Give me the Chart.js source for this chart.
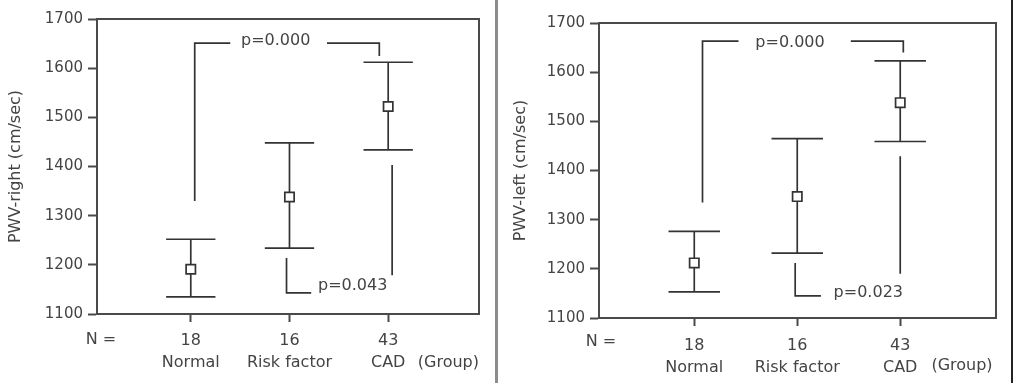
<!DOCTYPE html>
<html><head><meta charset="utf-8">
<script src="https://cdn.jsdelivr.net/npm/chart.js@4.4.1/dist/chart.umd.min.js"></script>
<style>
html,body{margin:0;padding:0;background:#fff;}
#wrap{position:relative;width:1019px;height:383px;overflow:hidden;background:#fff;}
#c1{position:absolute;left:0;top:0;}
#c2{position:absolute;left:500px;top:0;}
#sep{position:absolute;left:495px;top:0;width:3px;height:383px;background:#8c8c8c;}
#edge{position:absolute;left:1011px;top:0;width:2px;height:383px;background:#222;}
</style></head><body>
<div id="wrap">
<canvas id="c1" width="495" height="383"></canvas>
<div id="sep"></div>
<canvas id="c2" width="510" height="383"></canvas>
<div id="edge"></div>
</div>
<script>
// ---- data ----
const groups = ['Normal', 'Risk factor', 'CAD'];
const groupN = ['18', '16', '43'];
const yTicks = [1100, 1200, 1300, 1400, 1500, 1600, 1700];

// PWV-right panel
const rightMean  = [1191, 1338, 1522];
const rightUpper = [1252, 1448, 1612];
const rightLower = [1135, 1234, 1434];
// significance brackets (x in group units, y in cm/sec)
const rightBracketA1 = [[1.04, 1330], [1.04, 1651], [1.40, 1651]];
const rightBracketA2 = [[2.38, 1651], [2.91, 1651], [2.91, 1625]];
const rightBracketB1 = [[1.97, 1214], [1.97, 1143], [2.22, 1143]];
const rightBracketB2 = [[3.04, 1403], [3.04, 1179]];
const rightPLabels = [['p=0.000', 1.86, 1656], ['p=0.043', 2.64, 1157]];

// PWV-left panel
const leftMean  = [1212, 1347, 1538];
const leftUpper = [1276, 1465, 1623];
const leftLower = [1153, 1232, 1459];
const leftBracketA1 = [[1.08, 1335], [1.08, 1663], [1.43, 1663]];
const leftBracketA2 = [[2.52, 1663], [3.03, 1663], [3.03, 1640]];
const leftBracketB1 = [[1.98, 1212], [1.98, 1145], [2.23, 1145]];
const leftBracketB2 = [[3.00, 1429], [3.00, 1190]];
const leftPLabels = [['p=0.000', 1.93, 1660], ['p=0.023', 2.69, 1152]];

// ---- rendering ----
Chart.defaults.font.family = "'DejaVu Sans', sans-serif";
Chart.defaults.font.size = 16;
Chart.defaults.color = '#444';
Chart.defaults.animation = false;

const INK = '#333';
const FRAME = '#4a4a4a';

function lineDs(points) {
  return {
    type: 'scatter', showLine: true, pointRadius: 0, borderColor: INK, borderWidth: 1.7,
    backgroundColor: INK, fill: false, data: points.map(p => ({x: p[0], y: p[1]}))
  };
}

const framePlugin = {
  id: 'frame',
  afterDatasetsDraw(chart) {
    const {ctx, chartArea: a} = chart;
    ctx.save();
    ctx.strokeStyle = FRAME; ctx.lineWidth = 2;
    ctx.beginPath();
    ctx.moveTo(a.left, a.top); ctx.lineTo(a.right, a.top); ctx.lineTo(a.right, a.bottom);
    ctx.stroke();
    ctx.restore();
  }
};

const textPlugin = {
  id: 'texts',
  afterDraw(chart, args, opts) {
    const {ctx} = chart;
    const xs = chart.scales.x, ys = chart.scales.y;
    ctx.save();
    ctx.font = "16px 'DejaVu Sans', sans-serif";
    ctx.fillStyle = '#444';
    ctx.textAlign = 'center'; ctx.textBaseline = 'middle';
    opts.pLabels.forEach(l => ctx.fillText(l[0], xs.getPixelForValue(l[1]), ys.getPixelForValue(l[2])));
    ctx.fillText('N =', xs.getPixelForValue(opts.nX), opts.nY);
    ctx.fillText('(Group)', xs.getPixelForValue(opts.gX), opts.gY);
    ctx.restore();
  }
};

function makeChart(id, cfg) {
  const datasets = [];
  datasets.push({
    type: 'scatter', data: cfg.mean.map((m, i) => ({x: i + 1, y: m})),
    pointStyle: 'rect', pointRadius: 6.6, pointBackgroundColor: '#fff',
    pointBorderColor: INK, pointBorderWidth: 1.7, showLine: false
  });
  cfg.mean.forEach((m, i) => {
    const x = i + 1;
    datasets.push(lineDs([[x, cfg.lower[i]], [x, cfg.upper[i]]]));
    datasets.push(lineDs([[x - 0.25, cfg.upper[i]], [x + 0.25, cfg.upper[i]]]));
    datasets.push(lineDs([[x - 0.25, cfg.lower[i]], [x + 0.25, cfg.lower[i]]]));
  });
  cfg.brackets.forEach(b => datasets.push(lineDs(b)));

  return new Chart(document.getElementById(id), {
    type: 'scatter',
    data: {datasets},
    options: {
      responsive: false,
      layout: {padding: {top: cfg.padTop, right: cfg.padRight, left: 0, bottom: 0}},
      plugins: {legend: {display: false}, tooltip: {enabled: false},
        texts: {pLabels: cfg.pLabels, nX: cfg.nX, nY: cfg.nY, gX: cfg.gX, gY: cfg.gY}},
      scales: {
        x: {
          type: 'linear', min: cfg.xMin, max: cfg.xMax,
          afterBuildTicks: s => { s.ticks = groups.map((g, i) => ({value: i + 1})); },
          afterFit: s => { s.height = cfg.xHeight; },
          ticks: {
            autoSkip: false, maxRotation: 0, padding: cfg.xTickPad, color: '#444',
            font: {size: 16, lineHeight: 1.38},
            callback: (v, i) => [groupN[i], groups[i]]
          },
          grid: {drawOnChartArea: false, tickLength: 8, tickWidth: 2, tickColor: FRAME},
          border: {color: FRAME, width: 2}
        },
        y: {
          type: 'linear', min: yTicks[0], max: yTicks[yTicks.length - 1],
          afterBuildTicks: s => { s.ticks = yTicks.map(v => ({value: v})); },
          afterFit: s => { s.width = cfg.yWidth; },
          ticks: {padding: 5, color: '#444', font: {size: 15}, callback: v => String(v)},
          grid: {drawOnChartArea: false, tickLength: 9, tickWidth: 2, tickColor: FRAME},
          border: {color: FRAME, width: 2},
          title: {display: true, text: cfg.title, color: '#444', font: {size: 16}, padding: {top: cfg.titlePad, bottom: 0}}
        }
      }
    },
    plugins: [framePlugin, textPlugin]
  });
}

makeChart('c1', {
  mean: rightMean, upper: rightUpper, lower: rightLower,
  brackets: [rightBracketA1, rightBracketA2, rightBracketB1, rightBracketB2],
  pLabels: rightPLabels, title: 'PWV-right (cm/sec)',
  xMin: 0.05, xMax: 3.92, padTop: 19, padRight: 16, xHeight: 69, yWidth: 97,
  titlePad: 6, xTickPad: 8, nX: 0.09, nY: 340, gX: 3.61, gY: 363
});
makeChart('c2', {
  mean: leftMean, upper: leftUpper, lower: leftLower,
  brackets: [leftBracketA1, leftBracketA2, leftBracketB1, leftBracketB2],
  pLabels: leftPLabels, title: 'PWV-left (cm/sec)',
  xMin: 0.075, xMax: 3.93, padTop: 23, padRight: 14, xHeight: 65, yWidth: 99,
  titlePad: 11, xTickPad: 9, nX: 0.094, nY: 342, gX: 3.60, gY: 366
});
</script>
</body></html>
